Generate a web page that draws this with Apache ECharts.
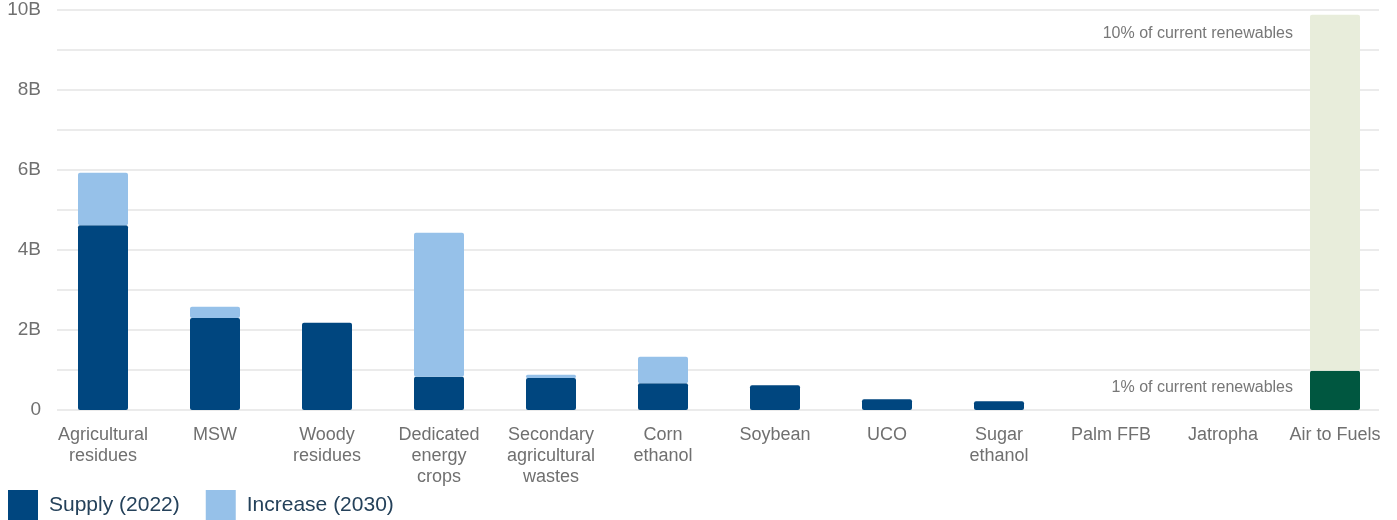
<!DOCTYPE html>
<html>
<head>
<meta charset="utf-8">
<script src="https://cdn.jsdelivr.net/npm/echarts@6/dist/echarts.min.js"></script>
<style>
html,body{margin:0;padding:0;background:#fff;}
#chart{width:1397px;height:520px;}
</style>
</head>
<body>
<div id="chart"></div>
<script>
const categories = ["Agricultural\nresidues","MSW","Woody\nresidues","Dedicated\nenergy\ncrops","Secondary\nagricultural\nwastes","Corn\nethanol","Soybean","UCO","Sugar\nethanol","Palm FFB","Jatropha","Air to Fuels"];
const supply2022 = [4.62, 2.30, 2.18, 0.83, 0.80, 0.67, 0.62, 0.27, 0.22, 0, 0, 0.98];
const increase2030 = [1.31, 0.28, 0, 3.60, 0.08, 0.66, 0, 0, 0, 0, 0, 8.90];
const yTicks = [0, 2, 4, 6, 8, 10];
const annotationLow = "1% of current renewables";
const annotationHigh = "10% of current renewables";
const seriesNames = ["Supply (2022)", "Increase (2030)"];

const FONT = "'Liberation Sans', Arial, sans-serif";
const DARK_BLUE = "#00467f";
const LIGHT_BLUE = "#96c1e9";
const DARK_GREEN = "#005740";
const LIGHT_GREEN = "#e8eddb";
const last = categories.length - 1;

const supplyData = supply2022.map((v, i) => i === last ? {
  value: v,
  itemStyle: {color: DARK_GREEN},
  label: {show: true, position: [-17, 17], align: 'right', verticalAlign: 'middle',
          formatter: annotationLow, color: '#777', fontSize: 16, fontFamily: FONT}
} : v);
const increaseData = increase2030.map((v, i) => i === last ? {
  value: v,
  itemStyle: {color: LIGHT_GREEN},
  label: {show: true, position: [-17, 19], align: 'right', verticalAlign: 'middle',
          formatter: annotationHigh, color: '#777', fontSize: 16, fontFamily: FONT}
} : v);

const chart = echarts.init(document.getElementById('chart'), null, {renderer: 'canvas'});
chart.setOption({
  animation: false,
  backgroundColor: '#fff',
  textStyle: {fontFamily: FONT},
  grid: [
    {left: 57, right: 18, top: 10, bottom: 110},
    {left: 47, right: 6, top: 10, bottom: 110}
  ],
  legend: {
    left: 8, top: 490, itemWidth: 30, itemHeight: 30, itemGap: 26, padding: 0,
    icon: 'rect',
    data: seriesNames,
    textStyle: {fontSize: 21, color: '#24415a', fontFamily: FONT, padding: [0, 0, 0, 6]}
  },
  xAxis: [
    {gridIndex: 0, type: 'value', show: false, min: 0, max: 1},
    {gridIndex: 1, type: 'category', data: categories,
     axisLine: {show: false}, axisTick: {show: false},
     axisLabel: {interval: 0, margin: 15, fontSize: 18, lineHeight: 21, color: '#707070', fontFamily: FONT}}
  ],
  yAxis: [
    {gridIndex: 0, type: 'value', min: 0, max: 10, interval: 1,
     axisLine: {show: false}, axisTick: {show: false},
     splitLine: {lineStyle: {color: '#ebebeb', width: 2}},
     axisLabel: {margin: 16, fontSize: 19, color: '#707070', fontFamily: FONT,
       formatter: v => yTicks.includes(v) ? (v === 0 ? '0' : v + 'B') : ''}},
    {gridIndex: 1, type: 'value', min: 0, max: 10, show: false, splitLine: {show: false}}
  ],
  series: [
    {name: seriesNames[0], type: 'bar', stack: 's', xAxisIndex: 1, yAxisIndex: 1,
     barWidth: 50, itemStyle: {color: DARK_BLUE, borderRadius: 2}, data: supplyData},
    {name: seriesNames[1], type: 'bar', stack: 's', xAxisIndex: 1, yAxisIndex: 1,
     barWidth: 50, itemStyle: {color: LIGHT_BLUE, borderRadius: 2}, data: increaseData}
  ]
});
</script>
</body>
</html>
